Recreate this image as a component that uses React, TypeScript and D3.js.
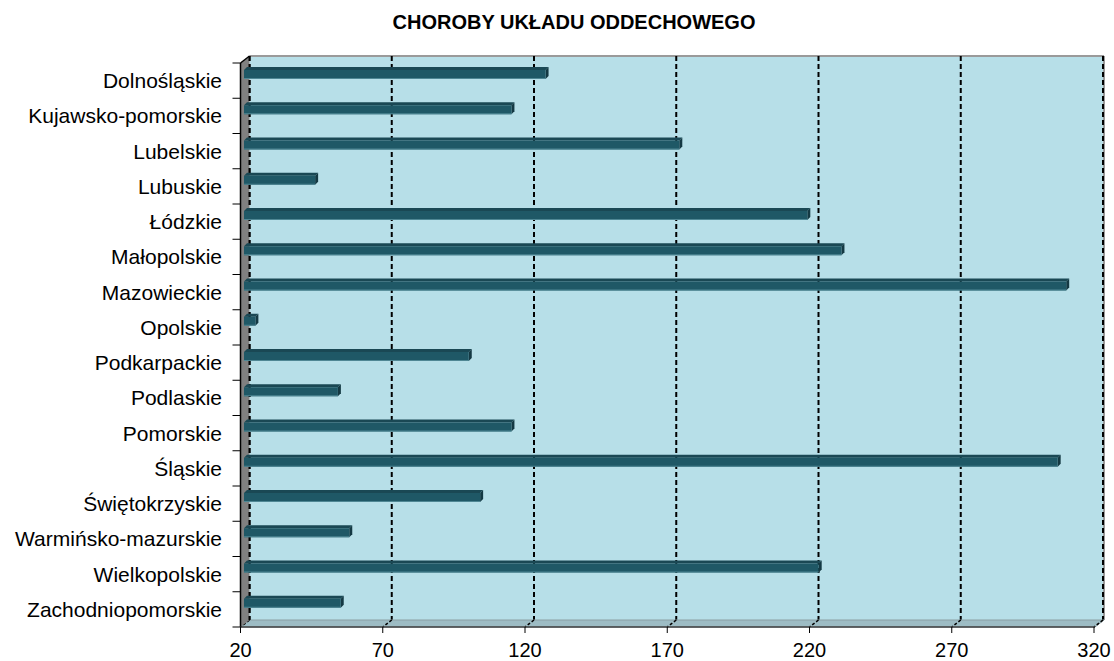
import React from "react";
import * as d3 from "d3";

const title = "CHOROBY UKŁADU ODDECHOWEGO";
const categories = [
  "Dolnośląskie",
  "Kujawsko-pomorskie",
  "Lubelskie",
  "Lubuskie",
  "Łódzkie",
  "Małopolskie",
  "Mazowieckie",
  "Opolskie",
  "Podkarpackie",
  "Podlaskie",
  "Pomorskie",
  "Śląskie",
  "Świętokrzyskie",
  "Warmińsko-mazurskie",
  "Wielkopolskie",
  "Zachodniopomorskie",
];
const values = [126, 114, 173, 45, 218, 230, 309, 24, 99, 53, 114, 306, 103, 57, 222, 54];
const ticks = [20, 70, 120, 170, 220, 270, 320];

const W = 1114;
const H = 661;
const FONT = "'Liberation Sans', Arial, sans-serif";

export default function App() {
  const left = 240.5;
  const right = 1094;
  const top = 63;
  const bottom = 627;
  const dx = 9;
  const dy = -7;

  const xFront = d3.scaleLinear().domain([20, 320]).range([left, right]);
  const xBack = (v: number) => xFront(v) + dx;
  const bdx = 3.5;
  const xBar = (v: number) => xFront(v) + bdx;
  const y = d3.scaleBand<string>().domain(categories).range([top, bottom]).padding(0);
  const bw = y.bandwidth();

  const backTop = top + dy;
  const backBottom = bottom + dy;

  const bars = categories.map((c, i) => {
    const yt = (y(c) as number);
    const fy0 = yt + 7;
    const fy1 = yt + 16;
    const x0 = xBar(20);
    const x1 = xBar(values[i]);
    const d = 3;
    return (
      <g key={c}>
        <polygon
          points={`${x0},${fy0} ${x0 + d},${fy0 - d} ${x1 + d},${fy0 - d} ${x1},${fy0}`}
          fill="#1a4854"
        />
        <polygon
          points={`${x1},${fy0} ${x1 + d},${fy0 - d} ${x1 + d},${fy1 - d} ${x1},${fy1}`}
          fill="#143943"
        />
        <rect x={x0} y={fy0} width={x1 - x0} height={fy1 - fy0} fill="#1f5866" />
        <line x1={x0} x2={x1} y1={fy1 - 0.5} y2={fy1 - 0.5} stroke="#4f8794" strokeWidth={1} />
      </g>
    );
  });

  return (
    <svg
      width={W}
      height={H}
      style={{ position: "absolute", left: 0, top: 0, background: "#fff" }}
      fontFamily={FONT}
    >
      <text x={574} y={29} textAnchor="middle" fontSize={20} fontWeight="bold" fill="#000">
        {title}
      </text>

      {/* back wall */}
      <rect
        x={xBack(20)}
        y={backTop}
        width={xBack(320) - xBack(20)}
        height={backBottom - backTop}
        fill="#b7dfe8"
      />
      <line x1={xBack(20)} x2={xBack(320) + 1} y1={backTop} y2={backTop} stroke="#9a9a9a" strokeWidth={2} />
      <line x1={xBack(320) + 1} x2={xBack(320) + 1} y1={backTop} y2={backBottom} stroke="#9a9a9a" strokeWidth={2} />

      {/* gridlines on back wall */}
      {ticks.map((t) => (
        <line
          key={"g" + t}
          x1={xBack(t)}
          x2={xBack(t)}
          y1={backTop}
          y2={backBottom}
          stroke="#000"
          strokeWidth={2}
          strokeDasharray="5,3"
        />
      ))}

      {/* floor */}
      <polygon
        points={`${xFront(20)},${bottom} ${xBack(20)},${backBottom} ${xBack(320) + 1},${backBottom} ${xFront(320) + 1},${bottom}`}
        fill="#9dbcc4"
        stroke="#8a9ea3"
        strokeWidth={1}
      />
      {ticks.map((t) => (
        <line
          key={"fg" + t}
          x1={xBack(t)}
          y1={backBottom}
          x2={xFront(t)}
          y2={bottom}
          stroke="#000"
          strokeWidth={1.5}
          strokeDasharray="3,2"
        />
      ))}

      {/* left wall */}
      <polygon
        points={`${left},${top} ${left + dx},${backTop} ${left + dx},${backBottom} ${left},${bottom}`}
        fill="#808080"
      />
      <line x1={left} y1={top} x2={left + dx} y2={backTop} stroke="#000" strokeWidth={1.5} />
      <line x1={left + dx} y1={backTop} x2={left + dx} y2={backBottom} stroke="#000" strokeWidth={2} strokeDasharray="5,3" />

      {bars}

      {/* axes */}
      <line x1={left} x2={left} y1={top} y2={bottom} stroke="#000" strokeWidth={1.5} />
      <line x1={left} x2={xFront(320) + 1} y1={bottom} y2={bottom} stroke="#404040" strokeWidth={1.5} />
      {d3.range(categories.length + 1).map((i) => {
        const yy = top + i * bw;
        return <line key={"yt" + i} x1={left - 8} x2={left} y1={yy} y2={yy} stroke="#000" strokeWidth={1} />;
      })}
      {ticks.map((t) => (
        <line key={"xt" + t} x1={xFront(t)} x2={xFront(t)} y1={bottom} y2={bottom + 6} stroke="#000" strokeWidth={1} />
      ))}

      {categories.map((c) => (
        <text
          key={"l" + c}
          x={222}
          y={(y(c) as number) + bw / 2}
          textAnchor="end"
          dominantBaseline="central"
          fontSize={21}
          fill="#000"
        >
          {c}
        </text>
      ))}
      {ticks.map((t) => (
        <text key={"xl" + t} x={xFront(t)} y={657} textAnchor="middle" fontSize={20} fill="#000">
          {t}
        </text>
      ))}
    </svg>
  );
}
